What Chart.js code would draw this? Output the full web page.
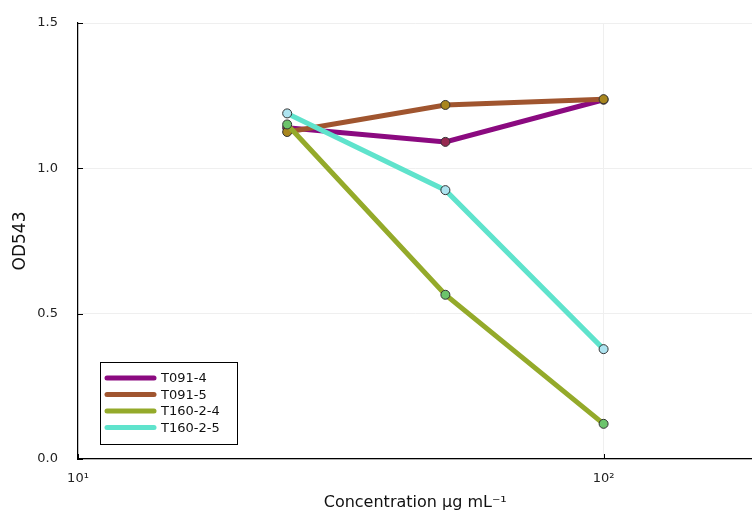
<!DOCTYPE html>
<html>
<head>
<meta charset="utf-8">
<script src="https://cdn.jsdelivr.net/npm/chart.js@4/dist/chart.umd.min.js"></script>
<style>
  body { margin: 0; background: #fff; }
  #wrap { width: 752px; height: 516px; overflow: hidden; }
</style>
</head>
<body>
<div id="wrap"><canvas id="chart" width="758" height="516"></canvas></div>
<script>
// data
const concentrations = [25, 50, 100];
const seriesNames = ['T091-4', 'T091-5', 'T160-2-4', 'T160-2-5'];
const t0914 = [1.14, 1.091, 1.236];
const t0915 = [1.125, 1.218, 1.238];
const t16024 = [1.151, 0.565, 0.121];
const t16025 = [1.189, 0.925, 0.378];
const xTickValues = [10, 100];
const xTickLabels = ['10¹', '10²'];
const yTickValues = [0, 0.5, 1.0, 1.5];

const lineColors = ['#8b0a80', '#a0552f', '#94aa2a', '#5fe3cc'];
const markerColors = ['#962a50', '#a8861e', '#6cc46c', '#aee4f0'];
const allSeries = [t0914, t0915, t16024, t16025];

const FONT = "'DejaVu Sans', sans-serif";

const datasets = allSeries.map((vals, i) => ({
    label: seriesNames[i],
    data: concentrations.map((c, j) => ({ x: c, y: vals[j] })),
    borderColor: lineColors[i],
    backgroundColor: lineColors[i],
    borderWidth: 5,
    pointBackgroundColor: markerColors[i],
    pointBorderColor: '#333',
    pointBorderWidth: 1,
    pointRadius: 4.5,
    tension: 0,
    order: seriesNames.length - i   // later series on top
}));

// inward tick marks on left/bottom axes
const innerTicks = {
    id: 'innerTicks',
    beforeDatasetsDraw(chart) {
        const { ctx, chartArea, scales } = chart;
        ctx.save();
        ctx.strokeStyle = '#000';
        ctx.lineWidth = 1;
        ctx.beginPath();
        yTickValues.forEach(v => {
            const y = Math.round(scales.y.getPixelForValue(v)) + 0.5;
            ctx.moveTo(chartArea.left, y);
            ctx.lineTo(chartArea.left + 5, y);
        });
        xTickValues.forEach(v => {
            const x = Math.round(scales.x.getPixelForValue(v)) + 0.5;
            ctx.moveTo(x, chartArea.bottom);
            ctx.lineTo(x, chartArea.bottom - 5);
        });
        ctx.stroke();
        ctx.restore();
    }
};

// boxed legend in the lower-left corner
const boxLegend = {
    id: 'boxLegend',
    afterDraw(chart) {
        const { ctx } = chart;
        const left = 100, top = 362, w = 137, h = 82;
        ctx.save();
        ctx.fillStyle = '#fff';
        ctx.fillRect(left, top, w, h);
        ctx.strokeStyle = '#000';
        ctx.lineWidth = 1;
        ctx.strokeRect(left + 0.5, top + 0.5, w, h);
        ctx.font = '13px ' + FONT;
        ctx.textBaseline = 'middle';
        seriesNames.forEach((name, i) => {
            const y = 378 + i * 16.5;
            ctx.strokeStyle = lineColors[i];
            ctx.lineWidth = 5;
            ctx.lineCap = 'round';
            ctx.beginPath();
            ctx.moveTo(107, y);
            ctx.lineTo(154, y);
            ctx.stroke();
            ctx.fillStyle = '#111';
            ctx.fillText(name, 161, y + 1);
        });
        ctx.restore();
    }
};

new Chart(document.getElementById('chart'), {
    type: 'line',
    data: { datasets },
    options: {
        responsive: false,
        animation: false,
        layout: { padding: { top: 23, right: 0, left: 0, bottom: 0 } },
        plugins: {
            legend: { display: false },
            tooltip: { enabled: false }
        },
        scales: {
            x: {
                type: 'logarithmic',
                min: 10,
                max: 192,
                afterBuildTicks: (scale) => { scale.ticks = xTickValues.map(v => ({ value: v })); },
                afterFit: (scale) => {
                    scale.height = 57;
                    scale.paddingLeft = 0;
                    scale.paddingRight = 0;
                },
                ticks: {
                    autoSkip: false,
                    maxRotation: 0,
                    padding: 12,
                    color: '#222',
                    font: { family: FONT, size: 13 },
                    callback: (v) => xTickLabels[xTickValues.indexOf(v)]
                },
                grid: { color: '#efefef', lineWidth: 1, drawTicks: false },
                border: { color: '#000', width: 1.2 },
                title: {
                    display: true,
                    text: 'Concentration µg mL⁻¹',
                    color: '#111',
                    font: { family: FONT, size: 16 },
                    padding: { top: 0, bottom: 4 }
                }
            },
            y: {
                type: 'linear',
                min: 0,
                max: 1.5,
                afterBuildTicks: (scale) => { scale.ticks = yTickValues.map(v => ({ value: v })); },
                afterFit: (scale) => {
                    scale.width = 78;
                    scale.paddingTop = 0;
                    scale.paddingBottom = 0;
                },
                ticks: {
                    padding: 20,
                    color: '#222',
                    font: { family: FONT, size: 13 },
                    callback: (v) => v.toFixed(1)
                },
                grid: { color: '#efefef', lineWidth: 1, drawTicks: false },
                border: { color: '#000', width: 1.2 },
                title: {
                    display: true,
                    text: 'OD543',
                    color: '#111',
                    font: { family: FONT, size: 17 },
                    padding: { top: 10, bottom: 0 }
                }
            }
        }
    },
    plugins: [innerTicks, boxLegend]
});
</script>
</body>
</html>
